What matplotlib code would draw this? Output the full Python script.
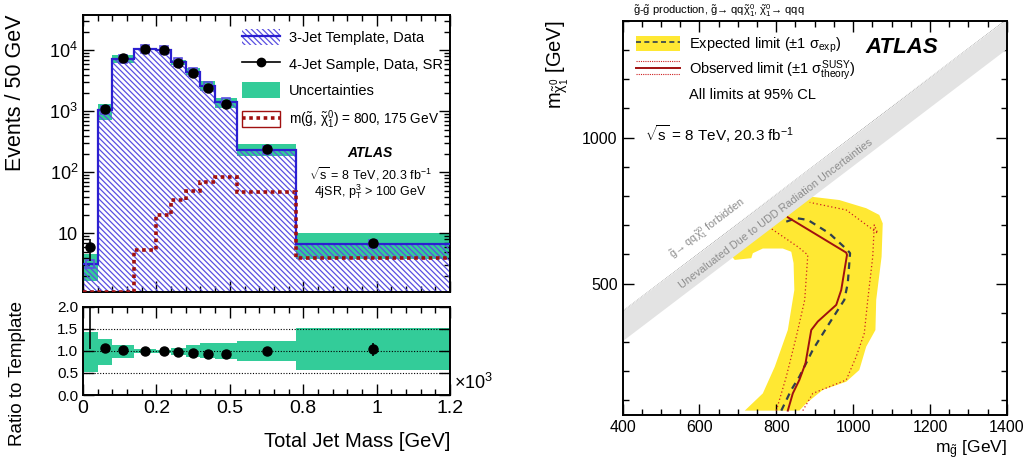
import matplotlib
matplotlib.use("Agg")
import matplotlib.pyplot as plt
import numpy as np
from matplotlib.legend_handler import HandlerBase, HandlerTuple
from matplotlib.lines import Line2D
from matplotlib.patches import Patch
from matplotlib.ticker import FixedLocator, LogLocator, MultipleLocator, NullFormatter

plt.rcParams['font.family'] = ['Liberation Sans', 'DejaVu Sans']
plt.rcParams['mathtext.fontset'] = 'custom'
plt.rcParams['mathtext.rm'] = 'Liberation Sans'
plt.rcParams['mathtext.it'] = 'Liberation Sans'
plt.rcParams['mathtext.bf'] = 'Liberation Sans:bold'
plt.rcParams['hatch.linewidth'] = 0.9

# --- left: total jet mass, 4-jet SR vs 3-jet template ---
edges = [0, 50, 100, 175, 250, 300, 350, 400, 450, 525, 725, 1250]
template = [3.2, 1050, 7300, 10500, 10100, 6400, 4500, 2650, 1400, 237, 6.7]
data = [5.9, 1100, 7500, 10400, 10000, 6100, 4200, 2450, 1300, 245, 7.0]
data_err = [2.3, 33, 87, 100, 100, 78, 65, 50, 36, 16, 1.0]
signal = [0, 0, 0, 5.3, 20, 35, 50, 70, 85, 48, 4.0]
ratio = [2.6, 1.06, 1.03, 1.00, 0.99, 0.97, 0.96, 0.93, 0.94, 1.00, 1.04]
ratio_err = [1.55, 0.02, 0.01, 0.01, 0.01, 0.01, 0.01, 0.02, 0.03, 0.06, 0.15]
unc_lo = [0.53, 0.68, 0.845, 0.95, 0.95, 0.90, 0.87, 0.83, 0.81, 0.78, 0.57]
unc_hi = [1.43, 1.28, 1.13, 1.04, 1.03, 1.07, 1.13, 1.17, 1.18, 1.22, 1.51]
xtick_labels = ["0", "0.2", "0.5", "0.8", "1", "1.2"]

# --- right: exclusion limits in (m_gluino, m_neutralino) ---
band_x = [718, 765, 796, 830, 847, 845, 839, 817, 765, 739, 735, 692, 680, 780,
          887, 964, 1034, 1068, 1077, 1074, 1060, 1058, 1034, 1016, 982, 921, 878, 860]
band_y = [65, 124, 215, 341, 478, 570, 609, 620, 620, 604, 587, 581, 600, 760,
          798, 786, 758, 735, 706, 592, 444, 341, 284, 204, 164, 136, 90, 65]
exp_x = [813, 839, 860, 895, 938, 977, 986, 992, 985, 938, 882, 852, 826]
exp_y = [65, 136, 181, 273, 364, 444, 501, 604, 615, 672, 718, 724, 712]
obs_x = [830, 843, 860, 876, 891, 908, 956, 969, 984, 982, 830]
obs_y = [65, 124, 170, 227, 341, 370, 427, 478, 598, 606, 727]
obs_dn_x = [800, 826, 852, 874, 882, 856, 787]
obs_dn_y = [65, 181, 318, 444, 598, 626, 688]
obs_up_x = [869, 895, 982, 1008, 1029, 1038, 1051, 1055, 1064, 982, 887]
obs_up_y = [65, 124, 170, 250, 330, 444, 592, 701, 672, 752, 778]
diag_m = [400, 1400]

BLUE = '#2b1fd0'
HATCH = '#5a4fe2'
GREEN = '#33cc99'
DRED = '#a01010'
YELLOW = '#ffe833'
HATCH_PAT = '\\' * 6

fig = plt.figure(figsize=(10.29, 4.62), dpi=100)
ax = fig.add_axes([0.0807, 0.368, 0.3567, 0.5996])
axr = fig.add_axes([0.0807, 0.145, 0.3567, 0.191])
ax2 = fig.add_axes([0.605, 0.1017, 0.3735, 0.8535])

edges = np.array(edges, dtype=float)
widths = np.diff(edges)
centers = edges[:-1] + widths / 2
template = np.array(template)
ymin, ymax = 1.1, 3.8e4

# main panel
ax.bar(edges[:-1], template * (np.array(unc_hi) - np.array(unc_lo)),
       bottom=template * np.array(unc_lo), width=widths, align='edge',
       color=GREEN, lw=0, zorder=1)
ax.bar(edges[:-1], template, width=widths, align='edge', fill=False,
       hatch=HATCH_PAT, edgecolor=HATCH, lw=0, zorder=2)
ax.stairs(template, edges, baseline=None, color=BLUE, lw=1.6, zorder=3)
sig_draw = np.where(np.array(signal) > 0, signal, ymin)
ax.stairs(sig_draw, edges, baseline=None, color=DRED, lw=2.6, ls=(0, (1, 1)), zorder=4)
ax.plot(centers, template, ls='none', marker='s', ms=6, mfc='none', mec=HATCH, mew=1.2, zorder=5)
ax.errorbar(centers, data, yerr=data_err, fmt='o', color='black', ms=6.5,
            elinewidth=1.2, capsize=0, zorder=6)
ax.set_yscale('log')
ax.set_xlim(0, 1250)
ax.set_ylim(ymin, ymax)
ax.yaxis.set_major_locator(FixedLocator([10, 100, 1000, 10000]))
ax.set_yticklabels(['10', '$10^{2}$', '$10^{3}$', '$10^{4}$'])
ax.yaxis.set_minor_locator(LogLocator(base=10, subs=np.arange(2, 10)))
ax.yaxis.set_minor_formatter(NullFormatter())
ax.xaxis.set_major_locator(MultipleLocator(250))
ax.xaxis.set_minor_locator(MultipleLocator(50))
ax.tick_params(axis='x', labelbottom=False)
ax.set_ylabel('Events / 50 GeV', fontsize=15.5, loc='top')
ax.yaxis.set_label_coords(-0.155, 1.0)

h_tmpl = (Patch(facecolor='none', edgecolor=HATCH, hatch=HATCH_PAT, lw=0), Line2D([], [], color=BLUE, lw=1.6))
h_data = Line2D([], [], color='black', marker='o', ms=6, lw=1.2)
h_unc = Patch(facecolor=GREEN, lw=0)
h_sig = (Patch(facecolor='none', edgecolor=DRED, lw=1.0), Line2D([], [], color=DRED, lw=2.6, ls=(0, (1, 1))))
leg = ax.legend([h_tmpl, h_data, h_unc, h_sig],
                ['3-Jet Template, Data', '4-Jet Sample, Data, SR', 'Uncertainties',
                 r'm($\tilde{g}$, $\tilde{\chi}^{0}_{1}$) = 800, 175 GeV'],
                handler_map={tuple: HandlerTuple(ndivide=1)},
                loc='upper left', bbox_to_anchor=(0.433, 0.948), frameon=False,
                fontsize=10.5, handlelength=2.6, handleheight=1.3, handletextpad=0.6,
                labelspacing=0.72, borderpad=0, borderaxespad=0)
leg.get_texts()[3].set_fontsize(9.8)
ax.text(0.782, 0.502, 'ATLAS', transform=ax.transAxes, fontsize=10, fontweight='bold',
        style='italic', ha='center', va='center')
ax.text(0.782, 0.426, r'$\sqrt{s}$ = 8 TeV, 20.3 fb$^{-1}$', transform=ax.transAxes,
        fontsize=9, ha='center', va='center')
ax.text(0.782, 0.361, r'4jSR, p$_{\mathrm{T}}^{3}$ > 100 GeV', transform=ax.transAxes,
        fontsize=9, ha='center', va='center')

# ratio panel
axr.bar(edges[:-1], np.array(unc_hi) - np.array(unc_lo), bottom=unc_lo, width=widths,
        align='edge', color=GREEN, lw=0, zorder=1)
for lvl in (0.5, 1.0, 1.5):
    axr.axhline(lvl, color='black', lw=0.8, ls=(0, (1, 1.5)), zorder=2)
axr.errorbar(centers, ratio, yerr=ratio_err, fmt='o', color='black', ms=6.5,
             elinewidth=1.2, capsize=0, zorder=3)
axr.set_xlim(0, 1250)
axr.set_ylim(0, 2)
axr.xaxis.set_minor_locator(MultipleLocator(50))
axr.set_xticks(np.arange(0, 1251, 250))
axr.set_xticklabels(xtick_labels, fontsize=14)
axr.yaxis.set_major_locator(MultipleLocator(0.5))
axr.set_yticklabels([f'{v:.1f}' for v in axr.get_yticks()], fontsize=11)
axr.set_ylabel('Ratio to Template', fontsize=13.5, loc='top')
axr.yaxis.set_label_coords(-0.155, 1.07)
axr.set_xlabel('Total Jet Mass [GeV]', fontsize=14.5, loc='right')
axr.xaxis.set_label_coords(1.0, -0.42)
axr.text(1.012, 0.14, r'$\times$10$^{3}$', transform=axr.transAxes, fontsize=13,
         ha='left', va='center')

# right panel
diag = np.array(diag_m, dtype=float)
ax2.fill_between(diag, diag - 95, diag + 5, color='#e3e3e3', lw=0, zorder=2)
ax2.plot(diag, diag + 5, color='#9a9a9a', lw=0.6, ls=(0, (1, 1)), zorder=2)
ax2.fill(band_x, band_y, color=YELLOW, lw=0, zorder=1)
ax2.plot(exp_x, exp_y, color='#2f3f4f', lw=1.6, ls=(0, (3, 2.5)), zorder=4)
ax2.plot(obs_x, obs_y, color=DRED, lw=1.4, zorder=5)
ax2.plot(obs_dn_x, obs_dn_y, color='#cc2020', lw=0.9, ls=(0, (1, 2)), zorder=4)
ax2.plot(obs_up_x, obs_up_y, color='#cc2020', lw=0.9, ls=(0, (1, 2)), zorder=4)
ax2.text(800, 740, 'Unevaluated Due to UDD Radiation Uncertainties', rotation=45,
         transform_rotates_text=True, rotation_mode='anchor', ha='center', va='center',
         fontsize=7.8, color='#8c8c8c', zorder=3)
ax2.text(622, 690, r'$\tilde{g}$→ qq$\tilde{\chi}^{0}_{1}$ forbidden', rotation=45,
         transform_rotates_text=True, rotation_mode='anchor', ha='center', va='center',
         fontsize=7.8, color='#8c8c8c', zorder=3)
ax2.set_xlim(400, 1400)
ax2.set_ylim(50, 1400)
ax2.xaxis.set_major_locator(MultipleLocator(200))
ax2.xaxis.set_minor_locator(MultipleLocator(50))
ax2.yaxis.set_major_locator(FixedLocator([500, 1000]))
ax2.yaxis.set_minor_locator(MultipleLocator(100))
ax2.tick_params(labelsize=11.5)
ax2.set_xlabel(r'm$_{\tilde{g}}$ [GeV]', fontsize=12.5, loc='right')
ax2.xaxis.set_label_coords(1.0, -0.06)
ax2.set_ylabel(r'm$_{\tilde{\chi}^{0}_{1}}$ [GeV]', fontsize=14.5, loc='top')
ax2.yaxis.set_label_coords(-0.135, 1.0)


class ObsHandler(HandlerBase):
    def create_artists(self, legend, orig_handle, xdescent, ydescent, width, height, fontsize, trans):
        yc = (height - ydescent) / 2
        out = []
        for dy, ls, lw in ((-0.42 * height, (0, (1, 1)), 0.8), (0, '-', 1.4), (0.42 * height, (0, (1, 1)), 0.8)):
            out.append(Line2D([-xdescent, width - xdescent], [yc + dy, yc + dy], color=DRED if ls == '-' else '#cc2020',
                              lw=lw, ls=ls, transform=trans))
        return out


h_exp = (Patch(facecolor=YELLOW, lw=0), Line2D([], [], color='#2f3f4f', lw=1.2, ls=(0, (3, 2))))
h_obs = object()
h_cl = Line2D([], [], lw=0)
ax2.legend([h_exp, h_obs, h_cl],
           [r'Expected limit ($\pm$1 $\sigma_{\mathrm{exp}}$)',
            r'Observed limit ($\pm$1 $\sigma^{\mathrm{SUSY}}_{\mathrm{theory}}$)',
            'All limits at 95% CL'],
           handler_map={tuple: HandlerTuple(ndivide=1), object: ObsHandler()},
           loc='upper left', bbox_to_anchor=(0.036, 0.962), frameon=False, fontsize=10.5,
           handlelength=3.0, handleheight=1.25, handletextpad=0.6, labelspacing=0.25,
           borderpad=0, borderaxespad=0)
ax2.text(0.726, 0.931, 'ATLAS', transform=ax2.transAxes, fontsize=16, fontweight='bold',
         style='italic', ha='center', va='center')
ax2.text(0.058, 0.713, r'$\sqrt{s}$ = 8 TeV, 20.3 fb$^{-1}$', transform=ax2.transAxes,
         fontsize=11, ha='left', va='center')
fig.text(0.615, 0.976, r'$\tilde{g}$-$\tilde{g}$ production, $\tilde{g}$→ qq$\tilde{\chi}^{0}_{1}$, '
         r'$\tilde{\chi}^{0}_{1}$→ qqq', fontsize=8, ha='left', va='center')

for a in (ax, axr, ax2):
    a.tick_params(which='both', direction='in', top=True, right=True, width=1.0)
    a.tick_params(which='major', length=8)
    a.tick_params(which='minor', length=4)
    for s in a.spines.values():
        s.set_linewidth(1.4)
ax.tick_params(labelsize=13)

fig.savefig('out.png', dpi=100)
